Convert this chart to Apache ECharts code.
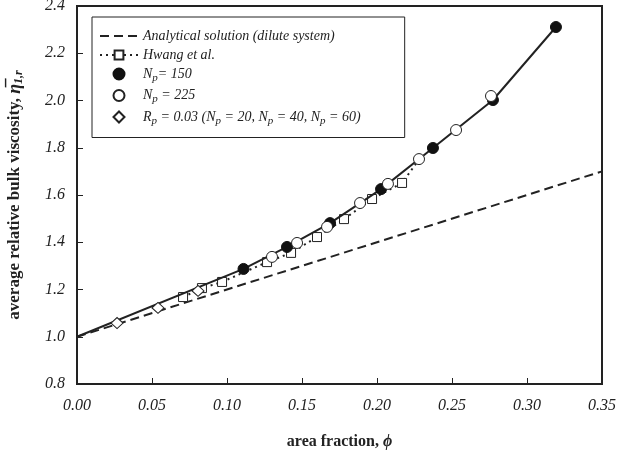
<!DOCTYPE html>
<html>
<head>
<meta charset="utf-8">
<script src="https://cdn.jsdelivr.net/npm/echarts@6/dist/echarts.min.js"></script>
<style>
html,body{margin:0;padding:0;background:#fff;}
#chart{width:618px;height:454px;}
</style>
</head>
<body>
<div id="chart"></div>
<script>
// ---- data ----
var xTicks = [0.00, 0.05, 0.10, 0.15, 0.20, 0.25, 0.30, 0.35];
var yTicks = [0.8, 1.0, 1.2, 1.4, 1.6, 1.8, 2.0, 2.2, 2.4];

var analyticalX = [0.0, 0.35];
var analyticalY = [1.0, 1.70];

var hwangX = [0.0707, 0.0833, 0.0967, 0.1267, 0.1427, 0.160, 0.178, 0.1967, 0.2167, 0.228];
var hwangY = [1.168, 1.206, 1.232, 1.316, 1.355, 1.422, 1.498, 1.583, 1.651, 1.750];

var np150X = [0.111, 0.140, 0.1687, 0.2027, 0.2373, 0.2773, 0.3193];
var np150Y = [1.287, 1.380, 1.481, 1.625, 1.799, 2.002, 2.311];

var np225X = [0.130, 0.1467, 0.1667, 0.1887, 0.2073, 0.228, 0.2527, 0.276];
var np225Y = [1.338, 1.397, 1.465, 1.566, 1.647, 1.752, 1.875, 2.019];

var rpX = [0.0267, 0.054, 0.0807];
var rpY = [1.058, 1.122, 1.194];

var fitOrigin = [0.0, 1.0];

function pairs(xs, ys) { return xs.map(function (x, i) { return [x, ys[i]]; }); }

var hwangData = pairs(hwangX, hwangY).map(function (p, i) {
  return i === hwangX.length - 1 ? { value: p, symbol: 'none' } : p;
});
var fitData = [fitOrigin].concat(pairs(np150X, np150Y));

var legendText = {
  analytical: 'Analytical solution (dilute system)',
  hwang: 'Hwang et al.',
  np150: 'N{s|p}= 150',
  np225: 'N{s|p} = 225',
  rp: 'R{s|p} = 0.03 (N{s|p} = 20, N{s|p} = 40, N{s|p} = 60)'
};

var serif = '"Liberation Serif", "Times New Roman", serif';
var diamondPath = 'path://M0,6L6,0L12,6L6,12Z';

var chart = echarts.init(document.getElementById('chart'), null, { renderer: 'canvas' });
chart.setOption({
  animation: false,
  backgroundColor: '#fff',
  grid: { left: 77, right: 16, top: 6, bottom: 70, show: false, outerBoundsMode: 'none', containLabel: false },
  legend: {
    orient: 'vertical',
    left: 92,
    top: 17,
    padding: [12, 44, 11, 7],
    borderColor: '#222',
    borderWidth: 1,
    itemWidth: 38,
    itemHeight: 11,
    itemGap: 5,
    symbolKeepAspect: true,
    data: ['analytical', 'hwang', 'np150', 'np225', 'rp'],
    formatter: function (name) { return legendText[name]; },
    textStyle: {
      fontFamily: serif, fontStyle: 'italic', fontSize: 14, color: '#222',
      rich: {
        s: { fontFamily: serif, fontStyle: 'italic', fontSize: 11, color: '#222', verticalAlign: 'bottom', padding: [8, 0, 0, 0] }
      }
    }
  },
  xAxis: {
    type: 'value',
    min: 0, max: 0.35, interval: 0.05,
    position: 'bottom',
    axisLine: { show: true, onZero: false, lineStyle: { color: '#222', width: 2 } },
    axisTick: { show: true, inside: true, length: 6, lineStyle: { color: '#222', width: 1 } },
    splitLine: { show: false },
    axisLabel: {
      margin: 14,
      fontFamily: serif, fontStyle: 'italic', fontSize: 16, color: '#222',
      formatter: function (v) { return v.toFixed(2); }
    },
    name: 'area fraction, {i|ϕ}',
    nameLocation: 'middle',
    nameGap: 50,
    nameTextStyle: {
      fontFamily: serif, fontWeight: 'bold', fontSize: 16, color: '#222',
      rich: { i: { fontFamily: serif, fontStyle: 'italic', fontWeight: 'bold', fontSize: 16, color: '#222' } }
    }
  },
  yAxis: {
    type: 'value',
    min: 0.8, max: 2.4, interval: 0.2,
    axisLine: { show: true, onZero: false, lineStyle: { color: '#222', width: 2 } },
    axisTick: { show: true, inside: true, length: 6, lineStyle: { color: '#222', width: 1 } },
    splitLine: { show: false },
    axisLabel: {
      margin: 12,
      fontFamily: serif, fontStyle: 'italic', fontSize: 16, color: '#222',
      formatter: function (v) { return v.toFixed(1); }
    },
    name: 'average relative bulk viscosity, {e|η̅}{s|1,r}',
    nameLocation: 'middle',
    nameRotate: 90,
    nameGap: 52,
    nameTextStyle: {
      fontFamily: serif, fontWeight: 'bold', fontSize: 17, color: '#222',
      rich: {
        e: { fontFamily: serif, fontStyle: 'italic', fontSize: 18, color: '#222' },
        s: { fontFamily: serif, fontStyle: 'italic', fontSize: 12, color: '#222', verticalAlign: 'bottom', padding: [8, 0, 0, 0] }
      }
    }
  },
  graphic: [{
    type: 'rect',
    shape: { x: 77, y: 6, width: 525, height: 378 },
    style: { fill: 'none', stroke: '#222', lineWidth: 2 },
    z: 0, silent: true
  }],
  series: [
    {
      name: 'analytical', type: 'line', data: pairs(analyticalX, analyticalY),
      symbol: 'none', itemStyle: { color: '#222', opacity: 0 },
      lineStyle: { color: '#222', width: 2, type: [9, 5], opacity: 1 }, z: 2
    },
    {
      name: 'hwang', type: 'line', data: hwangData,
      symbol: 'rect', symbolSize: 9, showAllSymbol: true,
      lineStyle: { color: '#222', width: 2, type: [2, 4] },
      itemStyle: { color: '#fff', borderColor: '#222', borderWidth: 1 }, z: 3
    },
    {
      name: 'fit', type: 'line', data: fitData, symbol: 'none',
      lineStyle: { color: '#222', width: 2 }, z: 4
    },
    {
      name: 'np150', type: 'scatter', data: pairs(np150X, np150Y),
      symbol: 'circle', symbolSize: 11,
      itemStyle: { color: '#111', borderColor: '#111', borderWidth: 1, opacity: 1 }, z: 5
    },
    {
      name: 'np225', type: 'scatter', data: pairs(np225X, np225Y),
      symbol: 'circle', symbolSize: 11,
      itemStyle: { color: '#fff', borderColor: '#222', borderWidth: 1, opacity: 1 }, z: 6
    },
    {
      name: 'rp', type: 'scatter', data: pairs(rpX, rpY),
      symbol: diamondPath, symbolSize: [12, 11],
      itemStyle: { color: '#fff', borderColor: '#222', borderWidth: 1, opacity: 1 }, z: 6
    }
  ]
});
</script>
</body>
</html>
